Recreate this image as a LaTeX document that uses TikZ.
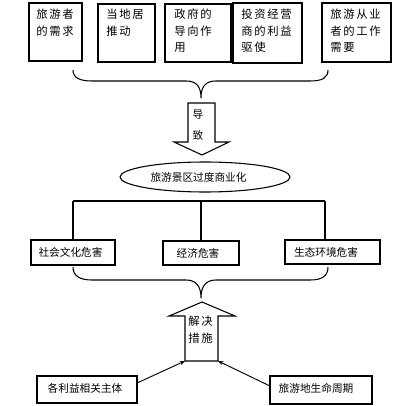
\documentclass[tikz,border=0pt]{standalone}
\usepackage{fontspec}
\newfontfamily\cjk{Noto Sans CJK SC}
\newfontfamily\cjksp[LetterSpace=15]{Noto Sans CJK SC}
\usetikzlibrary{fit,calc,shapes.geometric,arrows.meta}
\tikzset{
  box/.style={draw, line width=0.8pt, inner sep=0pt},
  toptxt/.style={anchor=north west, inner sep=0pt, align=left, font=\cjksp\fontsize{8.5}{12.4}\selectfont},
  txt/.style={inner sep=0pt, font=\cjk\fontsize{8}{10}\selectfont},
  line/.style={line width=0.8pt},
  arr/.style={line width=0.7pt, -{Stealth[length=4pt,width=3pt]}}
}
\begin{document}
\begin{tikzpicture}[x=0.75pt,y=-0.75pt]
\useasboundingbox (0,0) rectangle (400,406);
% top boxes
\node[box, fit={(29,3)(82,61)}] (b1) {};
\node[box, fit={(98,4)(155,62)}] (b2) {};
\node[box, fit={(165,4)(231,62)}] (b3) {};
\node[box, fit={(233,3)(302,63)}] (b4) {};
\node[box, fit={(322,3)(391,62)}] (b5) {};
\node[toptxt] (t1) at (36,9) {旅游者\\的需求};
\node[toptxt] (t2) at (106,9) {当地居\\推动};
\node[toptxt] (t3) at (174,9) {政府的\\导向作\\用};
\node[toptxt] (t4) at (241,9) {投资经营\\商的利益\\驱使};
\node[toptxt] (t5) at (330,9) {旅游从业\\者的工作\\需要};
% brace 1
\coordinate (L1) at (73,70);
\coordinate (R1) at (328,70);
\coordinate (M1) at (201,98);
\draw[line] (L1) .. controls (73,78) and (80,81) .. (92,81) -- (186,81)
  .. controls (196,81) and (201,86) .. (M1)
  .. controls (201,86) and (206,81) .. (216,81) -- (310,81)
  .. controls (322,81) and (328,78) .. (R1);
% down arrow
\draw[line] (188,103) -- (215,103) -- (215,142) -- (229,142) -- (202,155)
  -- (174,142) -- (188,142) -- cycle;
\node[txt, align=center, font=\cjk\fontsize{8}{16}\selectfont] (dz) at (198,125) {导\\致};
% ellipse
\node[draw, line width=0.8pt, ellipse, minimum width=127.5pt, minimum height=22.5pt, inner sep=0pt] (el) at (205,177) {};
\node[txt] (elt) at (198.5,177) {旅游景区过度商业化};
% second row boxes
\node[box, fit={(31,240)(115,265)}] (h1) {};
\node[box, fit={(163,241)(239,265)}] (h2) {};
\node[box, fit={(285,240)(380,264)}] (h3) {};
\node[txt] at (70.5,252) {社会文化危害};
\node[txt] at (198,253) {经济危害};
\node[txt] at (326,252) {生态环境危害};
% tree
\coordinate (j1) at (73,201);
\coordinate (j2) at (201,201);
\coordinate (j3) at (325,201);
\draw[line] (j1) -- (j3);
\draw[line] (j1) -- (j1 |- h1.north);
\draw[line] (j2) -- (j2 |- h2.north);
\draw[line] (j3) -- (j3 |- h3.north);
% brace 2
\coordinate (L2) at (73,267);
\coordinate (R2) at (328,267);
\coordinate (M2) at (201,298);
\draw[line] (L2) .. controls (73,276) and (80,280) .. (92,280) -- (186,280)
  .. controls (196,280) and (201,286) .. (M2)
  .. controls (201,286) and (206,280) .. (216,280) -- (310,280)
  .. controls (322,280) and (328,276) .. (R2);
% up arrow
\coordinate (ubl) at (185,361);
\coordinate (ubr) at (218,361);
\draw[line] (ubl) -- (185,316) -- (169,316) -- (202,302) -- (235,316)
  -- (218,316) -- (ubr) -- cycle;
\node[toptxt] (jj) at (188,316) {解决\\措施};
% bottom boxes
\node[box, fit={(37,376)(137,403)}] (d1) {};
\node[box, fit={(270,376)(372,404)}] (d2) {};
\node[txt] at (85,388) {各利益相关主体};
\node[txt] at (316,388) {旅游地生命周期};
\draw[arr] (137,383) -- (ubl);
\draw[arr] (270,386) -- (ubr);
\end{tikzpicture}
\end{document}
